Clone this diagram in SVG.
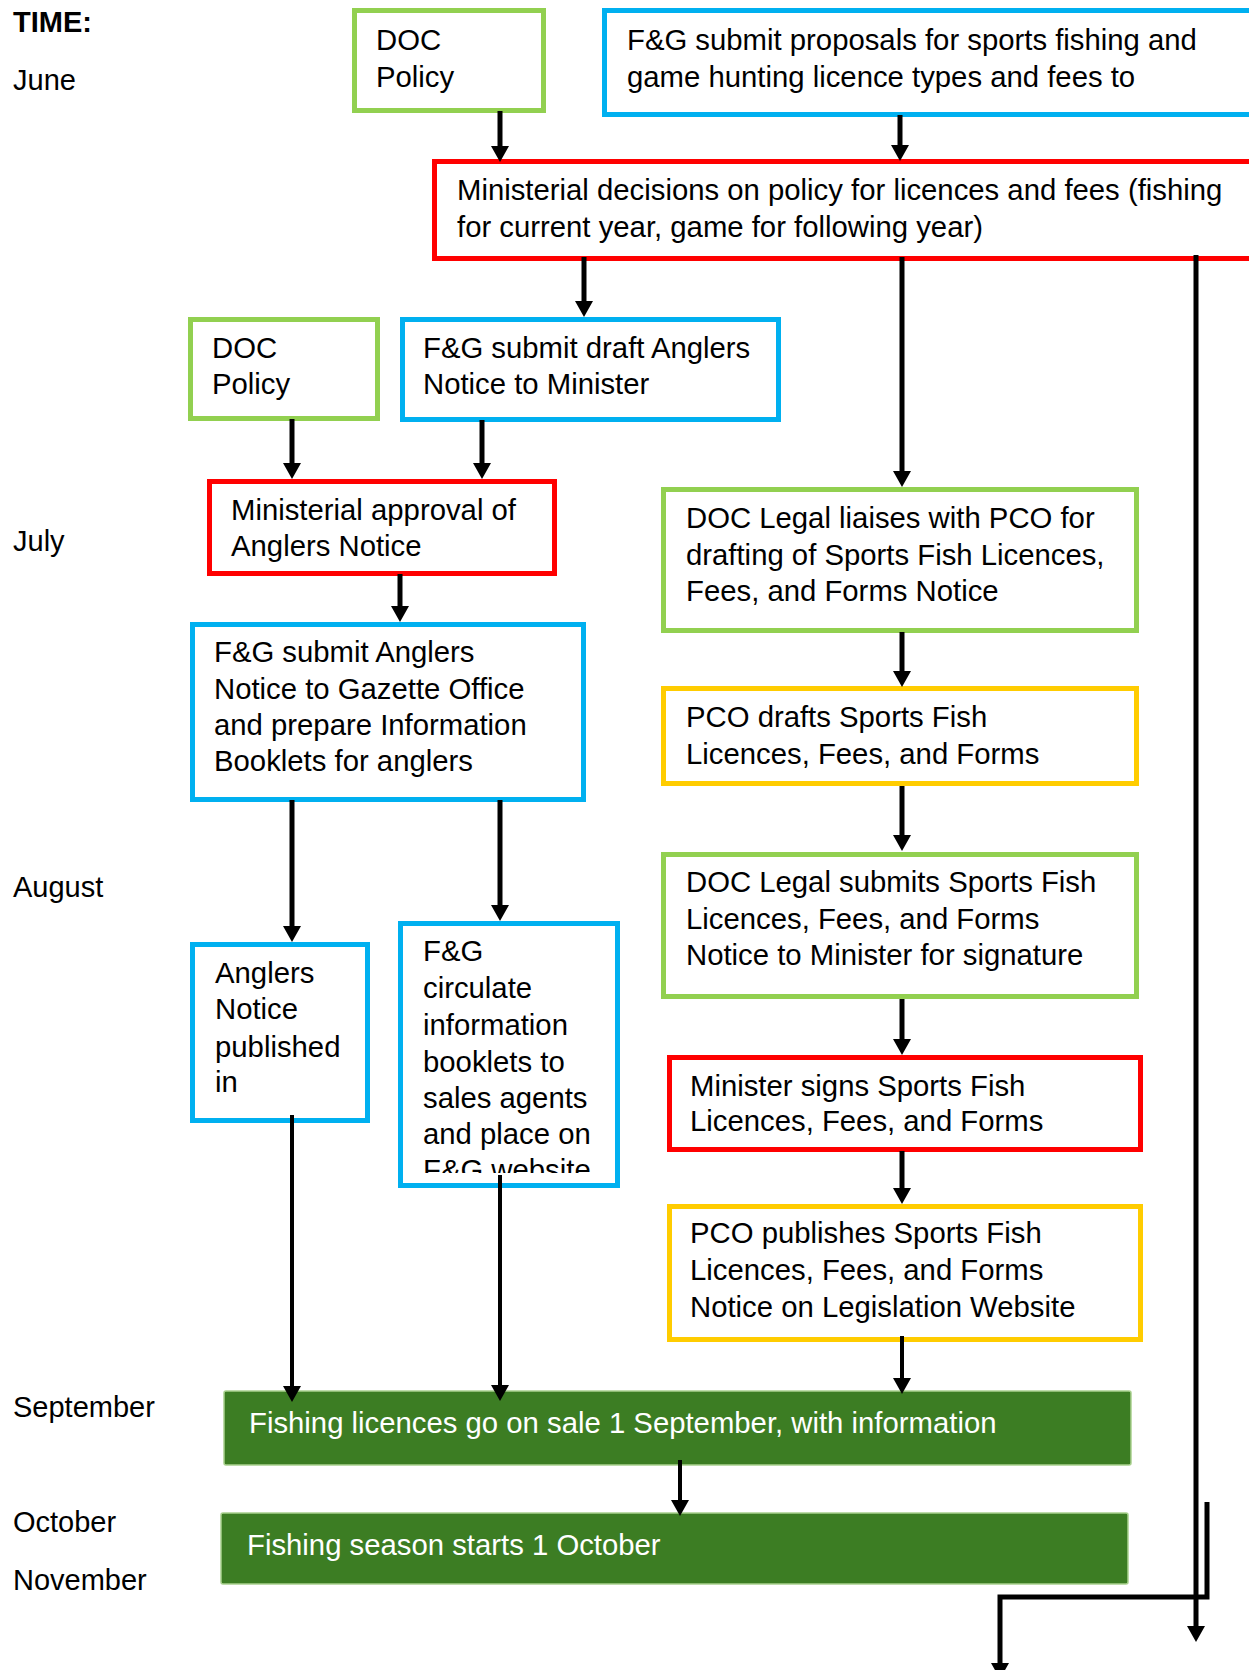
<svg xmlns="http://www.w3.org/2000/svg" width="1249" height="1670" viewBox="0 0 1249 1670">
<style>
.t{font-family:"Liberation Sans",Arial,sans-serif;font-size:29.3px;fill:#000}
.m{font-family:"Liberation Sans",Arial,sans-serif;font-size:29px;fill:#000}
.w{font-family:"Liberation Sans",Arial,sans-serif;font-size:29.3px;fill:#fff}
.g{fill:#fff;stroke:#92D050;stroke-width:5}
.b{fill:#fff;stroke:#00B0F0;stroke-width:5}
.r{fill:#fff;stroke:#FF0000;stroke-width:5}
.y{fill:#fff;stroke:#FFCC00;stroke-width:5}
.dg{fill:#3C7D23;stroke:#A9D18E;stroke-width:1.5}
.c{stroke:#000;stroke-width:5;fill:none}
.c2{stroke:#000;stroke-width:4;fill:none}
</style>
<defs>
<marker id="ah" viewBox="0 0 16 18" refX="1" refY="9" markerWidth="16" markerHeight="18" markerUnits="userSpaceOnUse" orient="auto">
<path d="M0,0 L16,9 L0,18 z" fill="#000"/>
</marker>
<clipPath id="clipFG"><rect x="400" y="923" width="218" height="250"/></clipPath>
</defs>
<rect width="1249" height="1670" fill="#fff"/>
<g id="timeline">
<text class="m" x="13" y="32" font-weight="bold">TIME:</text>
<text class="m" x="13" y="90">June</text>
<text class="m" x="13" y="551">July</text>
<text class="m" x="13" y="897">August</text>
<text class="m" x="13" y="1417">September</text>
<text class="m" x="13" y="1532">October</text>
<text class="m" x="13" y="1590">November</text>
</g>
<g id="n_doc1"><rect class="g" x="354.5" y="10.5" width="189" height="100"/><text class="t" x="376" y="50">DOC</text><text class="t" x="376" y="87">Policy</text></g>
<g id="n_fg_proposals"><rect class="b" x="604.5" y="10.5" width="700" height="104"/><text class="t" x="627" y="50">F&amp;G submit proposals for sports fishing and</text><text class="t" x="627" y="87">game hunting licence types and fees to</text></g>
<g id="n_min_decisions"><rect class="r" x="434.5" y="161.5" width="850" height="97"/><text class="t" x="457" y="200">Ministerial decisions on policy for licences and fees (fishing</text><text class="t" x="457" y="237">for current year, game for following year)</text></g>
<g id="n_doc2"><rect class="g" x="190.5" y="319.5" width="187" height="99"/><text class="t" x="212" y="358">DOC</text><text class="t" x="212" y="394">Policy</text></g>
<g id="n_fg_draft"><rect class="b" x="402.5" y="319.5" width="376" height="100"/><text class="t" x="423" y="358">F&amp;G submit draft Anglers</text><text class="t" x="423" y="394">Notice to Minister</text></g>
<g id="n_min_approval"><rect class="r" x="209.5" y="481.5" width="345" height="92"/><text class="t" x="231" y="520">Ministerial approval of</text><text class="t" x="231" y="556">Anglers Notice</text></g>
<g id="n_fg_gazette"><rect class="b" x="192.5" y="624.5" width="391" height="175"/><text class="t" x="214" y="662">F&amp;G submit Anglers</text><text class="t" x="214" y="699">Notice to Gazette Office</text><text class="t" x="214" y="735">and prepare Information</text><text class="t" x="214" y="771">Booklets for anglers</text></g>
<g id="n_anglers_pub"><rect class="b" x="192.5" y="944.5" width="175" height="176"/><text class="t" x="215" y="983">Anglers</text><text class="t" x="215" y="1019">Notice</text><text class="t" x="215" y="1057">published</text><text class="t" x="215" y="1092">in</text></g>
<g id="n_fg_circulate"><rect class="b" x="400.5" y="923.5" width="217" height="262"/><text class="t" x="423" y="961">F&amp;G</text><text class="t" x="423" y="998">circulate</text><text class="t" x="423" y="1035">information</text><text class="t" x="423" y="1072">booklets to</text><text class="t" x="423" y="1108">sales agents</text><text class="t" x="423" y="1144">and place on</text><text class="t" x="423" y="1180" clip-path="url(#clipFG)">F&amp;G website</text></g>
<g id="n_doc_liaises"><rect class="g" x="663.5" y="489.5" width="473" height="141"/><text class="t" x="686" y="528">DOC Legal liaises with PCO for</text><text class="t" x="686" y="565">drafting of Sports Fish Licences,</text><text class="t" x="686" y="601">Fees, and Forms Notice</text></g>
<g id="n_pco_drafts"><rect class="y" x="663.5" y="688.5" width="473" height="95"/><text class="t" x="686" y="727">PCO drafts Sports Fish</text><text class="t" x="686" y="764">Licences, Fees, and Forms</text></g>
<g id="n_doc_submits"><rect class="g" x="663.5" y="854.5" width="473" height="142"/><text class="t" x="686" y="892">DOC Legal submits Sports Fish</text><text class="t" x="686" y="929">Licences, Fees, and Forms</text><text class="t" x="686" y="965">Notice to Minister for signature</text></g>
<g id="n_min_signs"><rect class="r" x="669.5" y="1057.5" width="471" height="92"/><text class="t" x="690" y="1096">Minister signs Sports Fish</text><text class="t" x="690" y="1131">Licences, Fees, and Forms</text></g>
<g id="n_pco_publishes"><rect class="y" x="669.5" y="1206.5" width="471" height="133"/><text class="t" x="690" y="1243">PCO publishes Sports Fish</text><text class="t" x="690" y="1280">Licences, Fees, and Forms</text><text class="t" x="690" y="1317">Notice on Legislation Website</text></g>
<g id="n_sale"><rect class="dg" x="224" y="1391" width="907" height="74" rx="2"/><text class="w" x="249" y="1433">Fishing licences go on sale 1 September, with information</text></g>
<g id="n_season"><rect class="dg" x="221" y="1513" width="907" height="71" rx="2"/><text class="w" x="247" y="1555">Fishing season starts 1 October</text></g>
<g id="connectors">
<path class="c" d="M500,111 V147" marker-end="url(#ah)"/>
<path class="c" d="M900,115 V146" marker-end="url(#ah)"/>
<path class="c" d="M584,257 V302" marker-end="url(#ah)"/>
<path class="c" d="M902,257 V472" marker-end="url(#ah)"/>
<path class="c" d="M292,419 V464" marker-end="url(#ah)"/>
<path class="c" d="M482,420 V464" marker-end="url(#ah)"/>
<path class="c" d="M400,574 V607" marker-end="url(#ah)"/>
<path class="c" d="M292,800 V927" marker-end="url(#ah)"/>
<path class="c" d="M500,800 V906" marker-end="url(#ah)"/>
<path class="c" d="M902,632 V672" marker-end="url(#ah)"/>
<path class="c" d="M902,786 V836" marker-end="url(#ah)"/>
<path class="c" d="M902,999 V1040" marker-end="url(#ah)"/>
<path class="c" d="M902,1151 V1189" marker-end="url(#ah)"/>
<path class="c2" d="M902,1336 V1379" marker-end="url(#ah)"/>
<path class="c2" d="M292,1115 V1387" marker-end="url(#ah)"/>
<path class="c2" d="M500,1175 V1386" marker-end="url(#ah)"/>
<path class="c2" d="M680,1460 V1501" marker-end="url(#ah)"/>
<path class="c" d="M1196,255 V1627" marker-end="url(#ah)"/>
<path class="c" d="M1207,1502 V1597 H1000 V1664" marker-end="url(#ah)"/>
</g>
</svg>
